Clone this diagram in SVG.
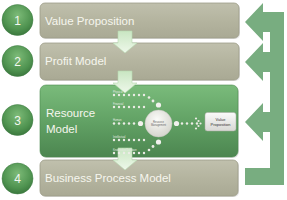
<svg xmlns="http://www.w3.org/2000/svg" width="287" height="200" viewBox="0 0 287 200">
<defs>
<linearGradient id="tan" x1="0" y1="0" x2="0" y2="1">
<stop offset="0" stop-color="#c0c0ad"/><stop offset="0.5" stop-color="#b4b49f"/><stop offset="1" stop-color="#a9a994"/>
</linearGradient>
<linearGradient id="grn" x1="0" y1="0" x2="0" y2="1">
<stop offset="0" stop-color="#7abb7b"/><stop offset="0.5" stop-color="#62a265"/><stop offset="1" stop-color="#4c8650"/>
</linearGradient>
<radialGradient id="num" cx="0.5" cy="0.35" r="0.65">
<stop offset="0" stop-color="#7dbb78"/><stop offset="0.7" stop-color="#4f9350"/><stop offset="1" stop-color="#3b783e"/>
</radialGradient>
<linearGradient id="darr" x1="0" y1="0" x2="0" y2="1">
<stop offset="0" stop-color="#c9e6c2"/><stop offset="1" stop-color="#eef8ea"/>
</linearGradient>
<radialGradient id="ball" cx="0.45" cy="0.35" r="0.7">
<stop offset="0" stop-color="#fbfbf8"/><stop offset="1" stop-color="#d2d2ca"/>
</radialGradient>
<linearGradient id="box" x1="0" y1="0" x2="0" y2="1">
<stop offset="0" stop-color="#fafafa"/><stop offset="1" stop-color="#d8d8d4"/>
</linearGradient>
</defs>
<style>
.bar{stroke:#9d9d88;stroke-width:0.8}
.shadow{fill:#000;opacity:0.12}
.label{font-family:"Liberation Sans",Arial,sans-serif;font-size:11.5px;fill:#f6f6ee}
.num{font-family:"Liberation Sans",Arial,sans-serif;font-size:12px;fill:#f4f8f0;text-anchor:middle}
.circ{fill:url(#num);stroke:#3f7d42;stroke-width:0.5}
.dot{fill:#ecece6}
.sat{fill:#f2f2ee}
.tiny{font-family:"Liberation Sans",Arial,sans-serif;font-size:2.6px;fill:#e4ece2}
.mini{font-family:"Liberation Sans",Arial,sans-serif;text-anchor:middle}
.darr{fill:url(#darr);stroke:#b7d9b0;stroke-width:0.6}
</style>

<g id="connectors">
<path d="M284,12 V185 H245 V168 H270 V132 H263 V141 L245,122 L263,103 V112 H270 V72 H263 V81 L245,62 L263,43 V52 H270 V32 H263 V41 L245,22 L263,3 V12 Z" fill="#78ad80"/>
</g>

<g id="bar1">
<rect x="41" y="4" width="199" height="35" rx="5" class="shadow"/>
<rect x="40" y="3" width="199" height="35" rx="5" fill="url(#tan)" class="bar"/>
<text x="45" y="25" class="label">Value Proposition</text>
</g>
<g id="bar2">
<rect x="41" y="44" width="199" height="37" rx="5" class="shadow"/>
<rect x="40" y="43" width="199" height="37" rx="5" fill="url(#tan)" class="bar"/>
<text x="45" y="65" class="label">Profit Model</text>
</g>
<g id="bar3">
<rect x="41" y="86" width="198" height="72" rx="6" class="shadow"/>
<rect x="40" y="85" width="198" height="72" rx="6" fill="url(#grn)" stroke="#4a8a4e" stroke-width="0.6"/>
<text x="46" y="117" class="label">Resource</text>
<text x="46" y="133" class="label">Model</text>
</g>
<g id="bar4">
<rect x="41" y="161" width="198" height="36" rx="5" class="shadow"/>
<rect x="40" y="160" width="198" height="36" rx="5" fill="url(#tan)" class="bar"/>
<text x="45" y="182" class="label">Business Process Model</text>
</g>

<g id="num1"><circle cx="17.5" cy="20" r="15.5" class="circ"/><text x="17.5" y="24.5" class="num">1</text></g>
<g id="num2"><circle cx="17.5" cy="61" r="15.5" class="circ"/><text x="17.5" y="65.5" class="num">2</text></g>
<g id="num3"><circle cx="17.5" cy="120" r="15.5" class="circ"/><text x="17.5" y="124.5" class="num">3</text></g>
<g id="num4"><circle cx="17.5" cy="178.5" r="15.5" class="circ"/><text x="17.5" y="183" class="num">4</text></g>

<g id="down-arrows">
<path d="M118,31 H132 V43 H137 L125,53 L113,43 H118 Z" class="darr"/>
<path d="M118,71 H132 V83 H137 L125,93 L113,83 H118 Z" class="darr"/>
<path d="M118,148 H132 V160 H137 L125,170 L113,160 H118 Z" class="darr"/>
</g>

<g id="resource-inputs">
<text x="113" y="92.5" class="tiny">Physical</text>
<text x="113" y="104.5" class="tiny">Financial</text>
<text x="113" y="120.5" class="tiny">Human</text>
<text x="113" y="137.5" class="tiny">Intellectual</text>
<text x="113" y="150.5" class="tiny">Knowledge/Software</text>
<g class="dot">
<circle cx="114" cy="95" r="1.2"/><circle cx="119" cy="95" r="1.2"/><circle cx="124" cy="95" r="1.2"/><circle cx="129" cy="95" r="1.2"/><circle cx="134" cy="95" r="1.2"/><circle cx="139" cy="95" r="1.2"/><circle cx="144" cy="95" r="1.2"/><circle cx="149" cy="97.5" r="1.3"/><circle cx="153" cy="101" r="1.4"/>
<circle cx="114" cy="107" r="1.2"/><circle cx="119" cy="107" r="1.2"/><circle cx="124" cy="107" r="1.2"/><circle cx="129" cy="107" r="1.2"/><circle cx="134" cy="107" r="1.2"/><circle cx="139" cy="107" r="1.2"/><circle cx="144" cy="107" r="1.2"/>
<circle cx="114" cy="123.5" r="1.2"/><circle cx="119" cy="123.5" r="1.2"/><circle cx="124" cy="123.5" r="1.2"/><circle cx="129" cy="123.5" r="1.2"/><circle cx="134" cy="123.5" r="1.2"/>
<circle cx="114" cy="140" r="1.2"/><circle cx="119" cy="140" r="1.2"/><circle cx="124" cy="140" r="1.2"/><circle cx="129" cy="140" r="1.2"/><circle cx="134" cy="140" r="1.2"/><circle cx="139" cy="140" r="1.2"/><circle cx="144" cy="140" r="1.2"/>
<circle cx="114" cy="153" r="1.2"/><circle cx="119" cy="153" r="1.2"/><circle cx="124" cy="153" r="1.2"/><circle cx="129" cy="153" r="1.2"/><circle cx="134" cy="153" r="1.2"/><circle cx="139" cy="153" r="1.2"/><circle cx="144" cy="153" r="1.2"/><circle cx="149" cy="150" r="1.3"/><circle cx="153" cy="146.5" r="1.4"/>
<circle cx="182" cy="123.5" r="1.2"/><circle cx="187" cy="123.5" r="1.2"/><circle cx="192" cy="123.5" r="1.2"/><circle cx="197" cy="123.5" r="1.2"/>
<circle cx="196" cy="118.5" r="1.1"/><circle cx="198.5" cy="121" r="1.1"/><circle cx="200.5" cy="123.5" r="1.1"/><circle cx="198.5" cy="126" r="1.1"/><circle cx="196" cy="128.5" r="1.1"/>
</g>
<g class="sat">
<circle cx="158.5" cy="105" r="2.6"/><circle cx="140.5" cy="123.5" r="2.6"/><circle cx="158.5" cy="142" r="2.6"/><circle cx="176.5" cy="123.5" r="2.6"/>
</g>
</g>

<g id="resource-management">
<circle cx="158.5" cy="123.5" r="13.5" fill="url(#ball)" stroke="#c4c4bc" stroke-width="0.5"/>
<text x="158.5" y="122.5" class="mini" font-size="2.6" fill="#666">Resource</text>
<text x="158.5" y="126" class="mini" font-size="2.6" fill="#666">Management</text>
</g>

<g id="value-proposition-box">
<rect x="205" y="112.5" width="31" height="18.5" rx="2.5" fill="url(#box)" stroke="#a8a8a2" stroke-width="0.5"/>
<text x="220.5" y="120.5" class="mini" font-size="4" fill="#333">Value</text>
<text x="220.5" y="125.5" class="mini" font-size="4" fill="#333">Proposition</text>
</g>
</svg>
